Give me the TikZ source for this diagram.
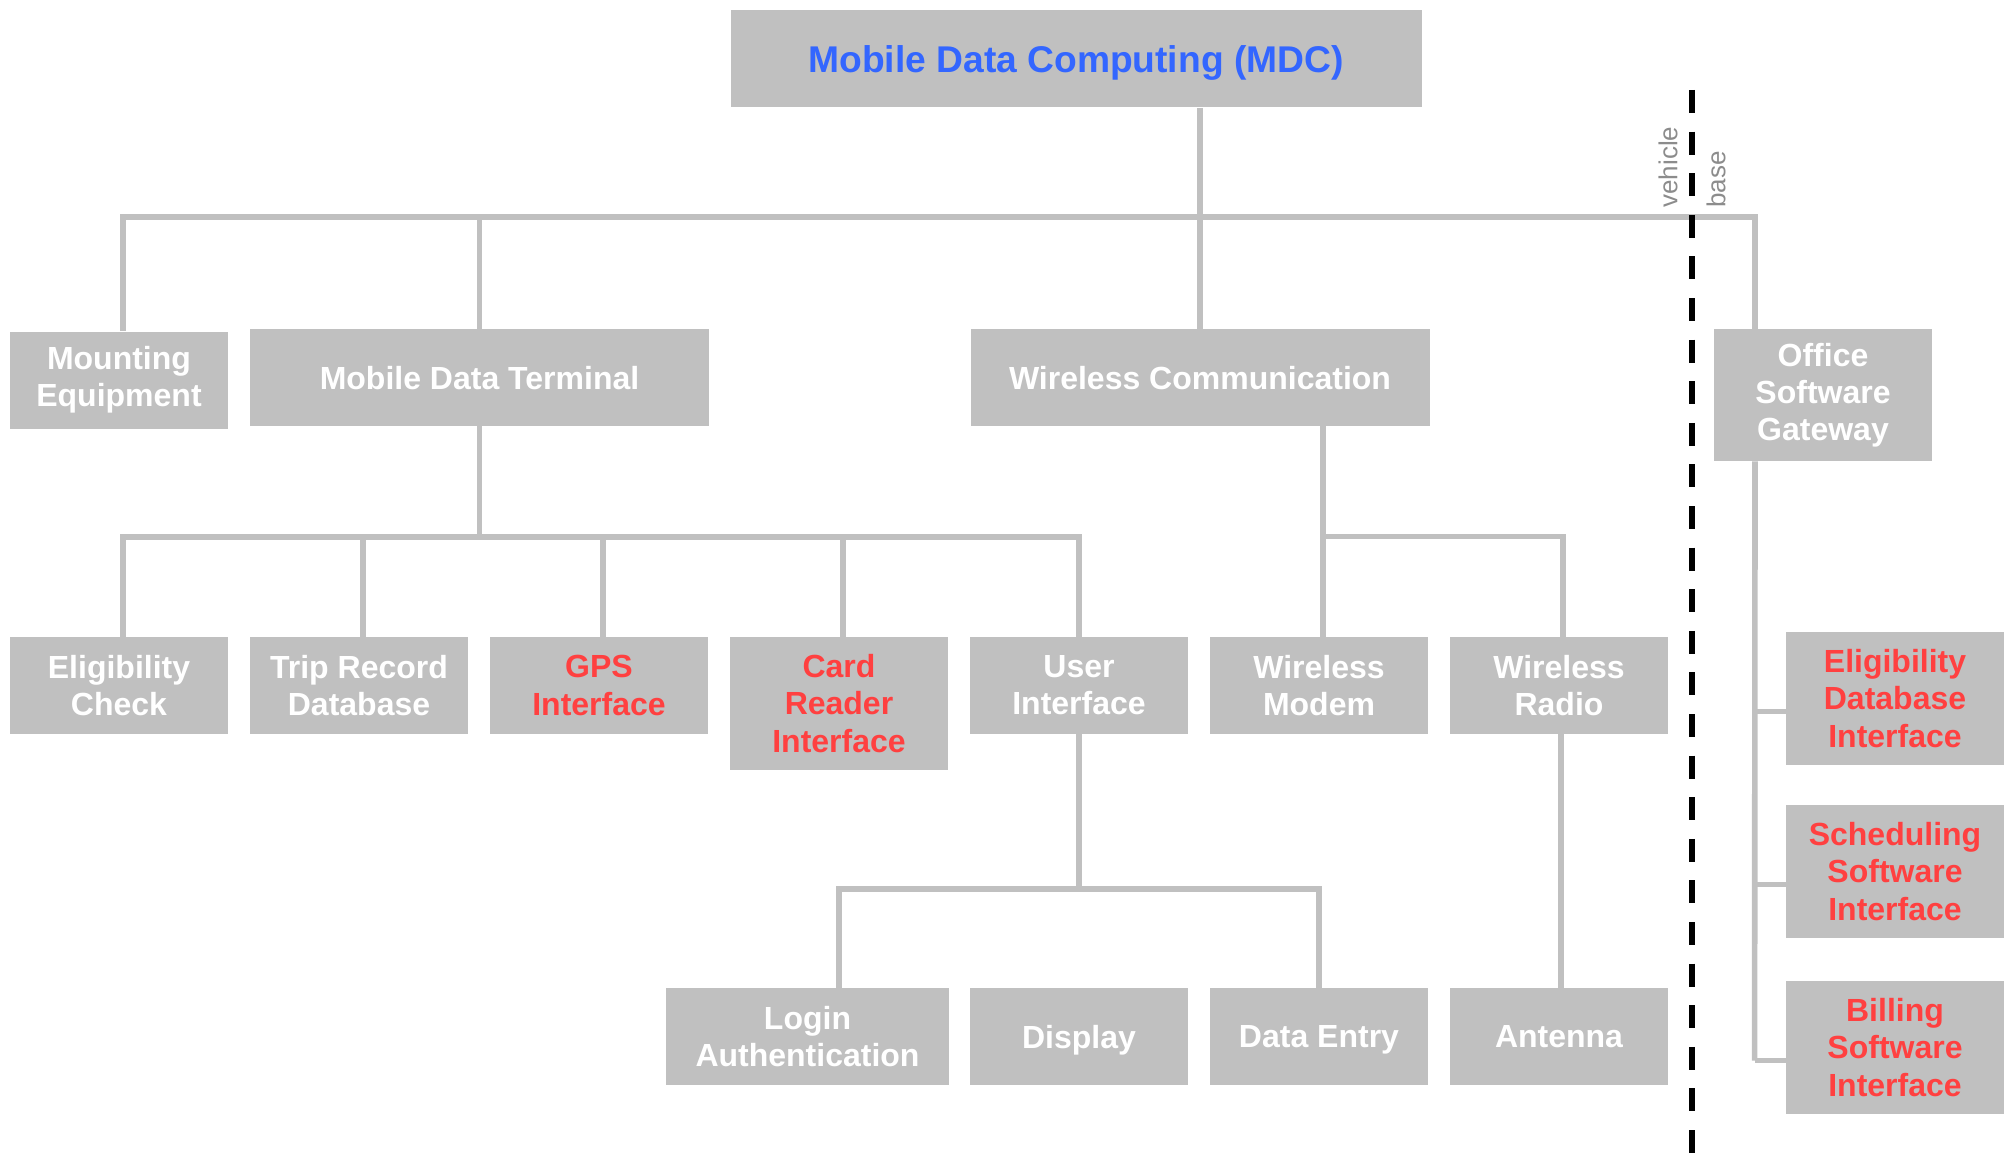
\documentclass[tikz,border=0pt]{standalone}
\usepackage{fontspec}
\setmainfont{Liberation Sans}
\usepackage{tikz}
\usetikzlibrary{positioning}

\definecolor{boxgray}{RGB}{192,192,192}
\definecolor{mdcblue}{RGB}{51,102,255}
\definecolor{ifred}{RGB}{255,64,64}
\definecolor{sidegray}{RGB}{140,140,140}

\tikzset{
  part/.style={fill=boxgray, text=white, inner sep=0pt, align=center,
    minimum width=109pt, minimum height=48.5pt,
    font=\fontsize{16}{18.6}\selectfont\bfseries},
  tall/.style={minimum height=66.5pt},
  flat/.style={text depth=0pt},
  red/.style={text=ifred},
  link/.style={draw=boxgray, line width=2.8pt},
  divider/.style={draw=black, line width=3pt, dash pattern=on 11.5pt off 9.3pt},
  side/.style={text=sidegray, inner sep=0pt, font=\fontsize{13}{13}\selectfont}
}

\begin{document}
\begin{tikzpicture}[x=0.5pt, y=-0.5pt]
      \useasboundingbox (0,0) rectangle (2013,1161);
      \node[part, flat, minimum width=345.5pt, text=mdcblue,
            font=\fontsize{18.6}{20}\selectfont\bfseries] (mdc) at (1076,59) {Mobile Data Computing (MDC)};
      \node[part] (mount) at (119,380) {Mounting\\Equipment};
      \node[part, flat, minimum width=229.5pt] (mdt) at (479.5,377.5) {Mobile Data Terminal};
      \node[part, flat, minimum width=229.5pt] (wc) at (1200,377.5) {Wireless Communication};
      \node[part, minimum height=66pt] (osg) at (1823,395) {Office\\Software\\Gateway};
      \node[part] (elig) at (119,685.5) {Eligibility\\Check};
      \node[part] (trip) at (359,685.5) {Trip Record\\Database};
      \node[part, red] (gps) at (599,685.5) {GPS\\Interface};
      \node[part, tall, red] (card) at (839,703.5) {Card\\Reader\\Interface};
      \node[part] (ui) at (1079,685.5) {User\\Interface};
      \node[part] (modem) at (1319,685.5) {Wireless\\Modem};
      \node[part] (radio) at (1559,685.5) {Wireless\\Radio};
      \node[part, minimum width=141.5pt] (login) at (807.5,1036.5) {Login\\Authentication};
      \node[part, flat] (display) at (1079,1036.5) {Display};
      \node[part, flat] (entry) at (1319,1036.5) {Data Entry};
      \node[part, flat] (antenna) at (1559,1036.5) {Antenna};
      \node[part, tall, red] (edi) at (1895,698.5) {Eligibility\\Database\\Interface};
      \node[part, tall, red] (ssi) at (1895,871.5) {Scheduling\\Software\\Interface};
      \node[part, tall, red] (bsi) at (1895,1047.5) {Billing\\Software\\Interface};

      \coordinate (topbus) at (1755,217);
      \coordinate (mdtbus) at (0,537);
      \coordinate (uibus) at (0,889);
      \draw[link] (mdc.south -| wc.north) -- (wc.north);
      \draw[link] ([xshift=2pt]mount.north) |- (topbus) -- (topbus |- osg.north);
      \draw[link] (mdt.north) -- (mdt.north |- topbus);
      \draw[link] (mdt.south) -- (mdt.south |- mdtbus);
      \draw[link] ([xshift=2pt]elig.north) |- (ui.north |- mdtbus) -- (ui.north);
      \foreach \n in {trip,gps,card}
        \draw[link] ([xshift=2pt]\n.north) -- ++(0,-100);
      \draw[link] ([xshift=2pt]modem.north) -- ++(0,-211);
      \draw[link] ([xshift=2pt]radio.north) -- ++(0,-100) -- ++(-240,0);
      \draw[link] (ui.south) -- (ui.south |- uibus);
      \draw[link] (entry.north) |- (card.south |- uibus) -- (card.south |- login.north);
      \draw[link] ([xshift=1pt]radio.south) -- ([xshift=1pt]antenna.north);
      \foreach \n in {edi,ssi,bsi}
        \draw[link] ([yshift=-6.5pt]\n.west) -- ++(-15.5pt,0) coordinate (\n-tap);
      \draw[link] (topbus |- osg.south) -- (bsi-tap);

      \coordinate (cut top) at (1692,90);
      \coordinate (cut end) at (1692,1161);
      \draw[divider] (cut top) -- (cut end);
      \node[side, rotate=90, anchor=west] (veh) at (1668,208) {vehicle};
      \node[side, rotate=90, anchor=west] (base) at (1716,208) {base};
      \end{tikzpicture}
\end{document}
